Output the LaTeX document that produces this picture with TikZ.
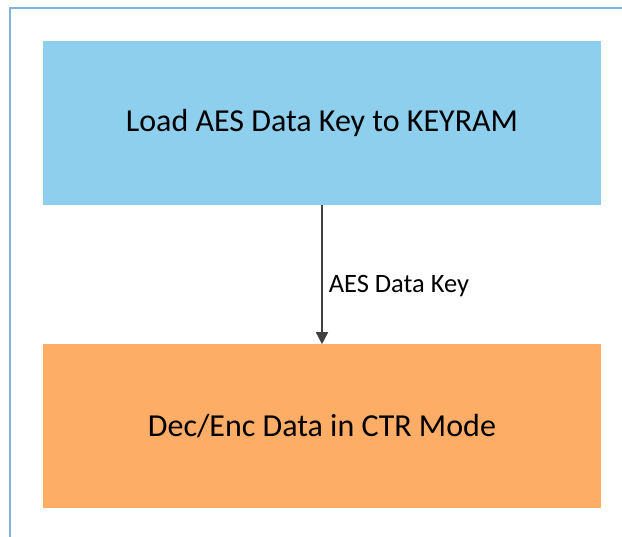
\documentclass[tikz,border=0pt]{standalone}
\usepackage{fontspec}
\setmainfont{Carlito}
\usetikzlibrary{arrows, arrows.meta, positioning}

\definecolor{keyblue}{HTML}{8ECFEE}
\definecolor{modeorange}{HTML}{FDAD66}
\definecolor{frameblue}{HTML}{7FB3DD}

\begin{document}
\begin{tikzpicture}[>={Triangle[length=12pt,width=12pt]}, x=1pt, y=-1pt,
    node distance=139pt,          % gap between the two steps
    stepbox/.style={rectangle,
                    draw=none,
                    minimum width=558pt,
                    minimum height=164pt,
                    inner sep=0pt,
                    font=\fontsize{32}{38}\selectfont,
                    align=center}]

  \useasboundingbox (0,0) rectangle (622,537);

  % Frame along the top and left edges
  \draw[frameblue, line width=2pt] (10,540) -- (10,8) -- (625,8);

  % The two steps, one under the other:
  \node (LoadKey) [stepbox, fill=keyblue] at (322,123) {Load AES Data Key to KEYRAM};
  \node (CtrMode) [stepbox, fill=modeorange, below=of LoadKey] {Dec/Enc Data in CTR Mode};

  % Arrow from the key step to the CTR step
  \draw[->, line width=1.5pt, black!75] (LoadKey) -- node[right, pos=0.58, text=black, font=\fontsize{26.5}{30}\selectfont, inner sep=6pt] (KeyLabel) {AES Data Key} (CtrMode);

\end{tikzpicture}
\end{document}
